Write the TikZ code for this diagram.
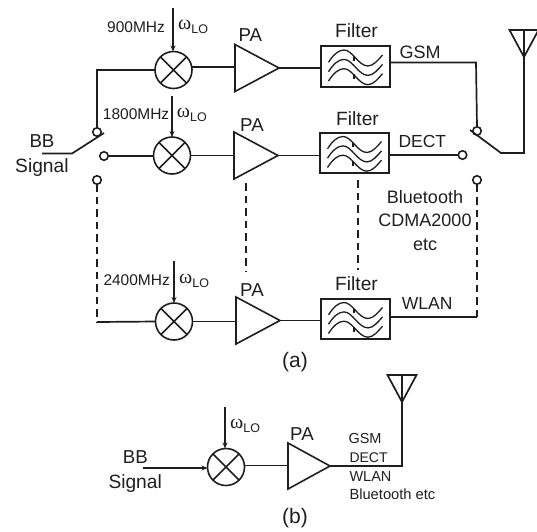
\documentclass[tikz,border=0pt]{standalone}
\usepackage{fontspec}
\setmainfont{Liberation Sans}
\newfontfamily\omfont{Liberation Serif}
\usetikzlibrary{shapes.geometric,arrows.meta}
\definecolor{ink}{HTML}{1E1E1E}
\newcommand{\oml}{{\omfont\fontsize{20}{20}\selectfont ω}\raisebox{-4pt}{\fontsize{12.5}{12.5}\selectfont LO}}
\newcommand{\fs}[1]{\fontsize{#1}{#1}\selectfont}
\tikzset{
  wire/.style={draw=ink,line width=1.7pt},
  thinwire/.style={draw=ink,line width=1.3pt},
  dashwire/.style={draw=ink,line width=1.3pt,dash pattern=on 7.5pt off 5pt},
  mixer/.style={circle,draw=ink,line width=1.6pt,minimum size=37pt,inner sep=0pt,outer sep=0pt},
  contact/.style={circle,draw=ink,line width=1.6pt,minimum size=8.5pt,inner sep=0pt,outer sep=0pt},
  filterbox/.style={rectangle,draw=ink,line width=1.6pt,minimum width=69pt,minimum height=40.5pt,inner sep=0pt,outer sep=0pt},
  amp/.style={isosceles triangle,isosceles triangle stretches,draw=ink,line width=1.6pt,minimum width=47pt,minimum height=44pt,inner sep=0pt,outer sep=0pt,anchor=lower side},
  txt/.style={anchor=base west,inner sep=0pt,text=ink},
  ctxt/.style={anchor=base,inner sep=0pt,text=ink},
  lo/.style={draw=ink,line width=1.4pt,-{Stealth[length=6pt,width=5pt]}},
  pics/xcross/.style={code={\draw[wire] (45:18.5)--(225:18.5) (135:18.5)--(315:18.5);}},
  pics/waves/.style={code={
    \foreach \d in {0,9.4,18.7}{
      \draw[draw=ink,line width=1.3pt] (-27,-4.2+\d) .. controls (-22,-12+\d) and (-17,-16.5+\d) .. (-11.5,-16.5+\d)
        .. controls (-3,-16.5+\d) and (3,-0.5+\d) .. (12.5,-0.5+\d)
        .. controls (18,-0.5+\d) and (23,-7+\d) .. (27,-11.5+\d);}
    \draw[draw=ink,line width=1.2pt] (-1.5,-10.5)--(-1.5,-6) (-1.5,7.5)--(-1.5,12.5);}},
  pics/antenna/.style={code={\draw[wire,line join=miter] (-14.5,-27)--(14.5,-27)--(0,0)--cycle (0,-27)--(0,0);}}
}
\begin{document}
\begin{tikzpicture}[x=1pt,y=-1pt]
\useasboundingbox (0,0) rectangle (537,531);
% mixers
\node[mixer] (m1) at (173.5,70) {};
\node[mixer] (m2) at (172,155.5) {};
\node[mixer] (m3) at (174,321.5) {};
\node[mixer] (mb) at (226,467) {};
\path (m1) pic {xcross} (m2) pic {xcross} (m3) pic {xcross} (mb) pic {xcross};
% amplifiers
\node[amp] (p1) at (235,68) {};
\node[amp] (p2) at (234,155.5) {};
\node[amp] (p3) at (236,320.5) {};
\node[amp,minimum width=46pt,minimum height=42pt] (pb) at (288,466) {};
% filters
\node[filterbox] (f1) at (355.5,66.5) {};
\node[filterbox] (f2) at (354.5,153) {};
\node[filterbox] (f3) at (355.5,319) {};
\path (f1) pic {waves} (f2) pic {waves} (f3) pic {waves};
% contacts
\node[contact] (cl1) at (97,132) {};
\node[contact] (cl2) at (104,156) {};
\node[contact] (cl3) at (97,180) {};
\node[contact] (cr1) at (477,131) {};
\node[contact] (cr2) at (462.5,155) {};
\node[contact] (cr3) at (477,180) {};
% antennas
\coordinate (ant) at (524,57);
\coordinate (antb) at (402,402);
\path (ant) pic {antenna};
\path (antb) pic {antenna};
% free points
\coordinate (bbin) at (42,153.5);
\coordinate (bbk) at (72,153.5);
\coordinate (bbe) at (104,133);
\coordinate (rs) at (470,130);
\coordinate (rk) at (501,153);
\coordinate (rt) at (524,153);
\coordinate (bbb) at (143,468);
% chain 1
\draw[wire] (cl1.north) |- (m1.west);
\draw[wire] (m1.9) -- (m1.9 -| p1.lower side);
\draw[wire] (p1.apex) -- (p1.apex -| f1.west);
\draw[wire] (f1.east) ++(0,-4) -- ++(86,0) -- (cr1.north);
% chain 2
\draw[wire] (bbin) -- (bbk) -- (bbe);
\draw[wire] (cl2.east) -- (cl2.east -| m2.west);
\draw[wire] (m2.east) -- (m2.east -| p2.lower side);
\draw[wire] (p2.apex) -- (p2.apex -| f2.west);
\draw[wire] (f2.east |- cr2.west) -- (cr2.west);
\draw[wire] (rs) -- (rk) -- (rt) -- (ant);
% chain 3
\draw[dashwire] (cl3.south) -- (97,322);
\draw[wire] (97,322) -- (m3.west);
\draw[wire] (m3.east) -- (m3.east -| p3.lower side);
\draw[wire] (p3.apex) -- (p3.apex -| f3.west);
\draw[wire] (f3.east |- 0,317) -- (477,317);
\draw[dashwire] (477,317) -- (cr3.south);
% dashed between rows
\draw[dashwire] (246,183) -- (246,272);
\draw[dashwire] (358,180) -- (358,270);
% LO inputs
\coordinate (lo1) at (173,8);
\coordinate (lo2) at (172,96);
\coordinate (lo3) at (174,261);
\coordinate (lob) at (225,407);
\draw[lo] (lo1) -- (m1.north -| lo1);
\draw[lo] (lo2) -- (m2.north -| lo2);
\draw[lo] (lo3) -- (m3.north -| lo3);
\draw[lo] (lob) -- (mb.north -| lob);
% (b) wires
\draw[lo] (bbb) -- (mb.west |- bbb);
\draw[thinwire] (mb.4) -- (mb.4 -| pb.lower side);
\draw[thinwire] (pb.apex) -- (pb.apex -| antb) -- (antb);
% labels
\node[txt,font=\fs{15.5}] (t1) at (107,32.7) {900MHz};
\node[txt] (w1) at (178,29) {\oml};
\node[txt,font=\fs{18.7}] (pa1) at (238.3,41.7) {PA};
\node[txt,font=\fs{15.5}] (t2) at (102.7,119.3) {1800MHz};
\node[txt] (w2) at (176.7,117.3) {\oml};
\node[txt,font=\fs{18.7}] (pa2) at (240,131) {PA};
\node[txt,font=\fs{18.7}] (bb) at (29.3,147.3) {BB};
\node[txt,font=\fs{19.2}] (sg) at (15,172.7) {Signal};
\node[txt,font=\fs{19.2}] (fl1) at (335,37.7) {Filter};
\node[txt,font=\fs{18}] (gsm) at (399.3,58.3) {GSM};
\node[txt,font=\fs{19.2}] (fl2) at (336,125.3) {Filter};
\node[txt,font=\fs{17.5}] (dect) at (398.3,147.3) {DECT};
\node[ctxt,font=\fs{18}] (bt) at (425,203.3) {Bluetooth};
\node[ctxt,font=\fs{18}] (cd) at (425,226.7) {CDMA2000};
\node[ctxt,font=\fs{18}] (et) at (425,250) {etc};
\node[txt,font=\fs{15.5}] (t3) at (103.3,285) {2400MHz};
\node[txt] (w3) at (179,283.3) {\oml};
\node[txt,font=\fs{18.7}] (pa3) at (240,296.7) {PA};
\node[txt,font=\fs{19.2}] (fl3) at (335,290.7) {Filter};
\node[txt,font=\fs{17.5}] (wl) at (401.7,309.3) {WLAN};
\node[ctxt,font=\fs{21}] (la) at (295,367) {(a)};
\node[txt] (wb) at (230,428.3) {\oml};
\node[txt,font=\fs{18.7}] (pab) at (290,440) {PA};
\node[txt,font=\fs{18.7}] (bb2) at (122.7,463.3) {BB};
\node[txt,font=\fs{19.2}] (sg2) at (108.3,488.3) {Signal};
\node[txt,font=\fs{14.5}] (g2) at (348.3,443.3) {GSM};
\node[txt,font=\fs{14}] (d2) at (349.3,462.7) {DECT};
\node[txt,font=\fs{14.5}] (w2b) at (349.3,481.7) {WLAN};
\node[txt,font=\fs{14.7}] (b2) at (349.3,499.3) {Bluetooth etc};
\node[ctxt,font=\fs{21}] (lb) at (295,523) {(b)};
\end{tikzpicture}
\end{document}
